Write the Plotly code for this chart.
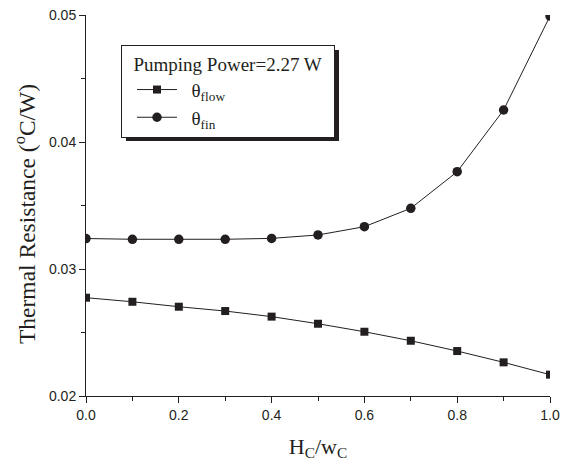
import plotly.graph_objects as go

x_ratio = [0.0, 0.1, 0.2, 0.3, 0.4, 0.5, 0.6, 0.7, 0.8, 0.9, 1.0]
theta_flow = [0.02774, 0.02742, 0.02703, 0.02669, 0.02625, 0.02569, 0.02506, 0.02435, 0.02354, 0.02265, 0.02168]
theta_fin = [0.03240, 0.03234, 0.03234, 0.03234, 0.03241, 0.03268, 0.03333, 0.03478, 0.03766, 0.04252, 0.04992]

INK = "#231f20"
SERIF = "Liberation Serif, Times New Roman, serif"
SANS = "Liberation Sans, Arial, sans-serif"
NB = "&nbsp;"

fig = go.Figure()
fig.add_trace(go.Scatter(x=x_ratio, y=theta_flow, mode="lines+markers", name=NB * 2 + "θ<sub>flow</sub>",
                         line=dict(color=INK, width=1),
                         marker=dict(symbol="square", size=8, color=INK)))
fig.add_trace(go.Scatter(x=x_ratio, y=theta_fin, mode="lines+markers", name=NB * 2 + "θ<sub>fin</sub>",
                         line=dict(color=INK, width=1),
                         marker=dict(symbol="circle", size=9.5, color=INK)))

OFF = 8  # page body margin
W, H = 574 - OFF, 464 - OFF
L, R, T, B = 86 - OFF, 24, 15 - OFF, 68
pw, ph = W - L - R, H - T - B

def px_x(p):
    return (p - OFF - L) / pw

def px_y(p):
    return (H - B - (p - OFF)) / ph

# legend shadow
fig.add_shape(type="rect", xref="paper", yref="paper",
              x0=px_x(126), x1=px_x(339), y0=px_y(141), y1=px_y(50),
              fillcolor=INK, line=dict(width=0), layer="above")

# y-axis title
fig.add_annotation(text="Thermal Resistance (<sup>o</sup>C/W)", xref="paper", yref="paper",
                   x=px_x(25), y=px_y(214), textangle=-90, showarrow=False,
                   xanchor="center", yanchor="middle",
                   font=dict(family=SERIF, size=23.5, color=INK))

fig.update_layout(
    width=W, height=H,
    margin=dict(l=L, r=R, t=T, b=B, autoexpand=False),
    paper_bgcolor="white", plot_bgcolor="white",
    showlegend=True,
    legend=dict(x=px_x(121), y=px_y(45), xanchor="left", yanchor="top",
                bgcolor="white", bordercolor=INK, borderwidth=1,
                font=dict(family=SERIF, size=19, color=INK),
                title=dict(text=NB * 2 + "Pumping Power=2.27 W" + NB * 2, font=dict(family=SERIF, size=19, color=INK)),
                indentation=10, itemwidth=40, tracegroupgap=0),
    xaxis=dict(range=[0, 1], tickmode="linear", tick0=0, dtick=0.2, tickformat=".1f", automargin=False,
               showgrid=False, zeroline=False, showline=True, linecolor=INK, linewidth=1,
               ticks="outside", ticklen=6, tickcolor=INK, tickwidth=1, ticklabeloverflow="allow",
               minor=dict(dtick=0.1, ticks="outside", ticklen=4, tickcolor=INK, showgrid=False),
               tickfont=dict(family=SANS, size=14, color=INK),
               title=dict(text="H<sub>C</sub>/w<sub>C</sub>", font=dict(family=SERIF, size=22, color=INK), standoff=16)),
    yaxis=dict(range=[0.02, 0.05], tickmode="linear", tick0=0.02, dtick=0.01, tickformat=".2f", automargin=False,
               showgrid=False, zeroline=False, showline=True, linecolor=INK, linewidth=1,
               ticks="outside", ticklen=6, tickcolor=INK, tickwidth=1, ticklabeloverflow="allow",
               minor=dict(dtick=0.005, ticks="outside", ticklen=4, tickcolor=INK, showgrid=False),
               tickfont=dict(family=SANS, size=14, color=INK)),
)

fig.write_html("out.html")
